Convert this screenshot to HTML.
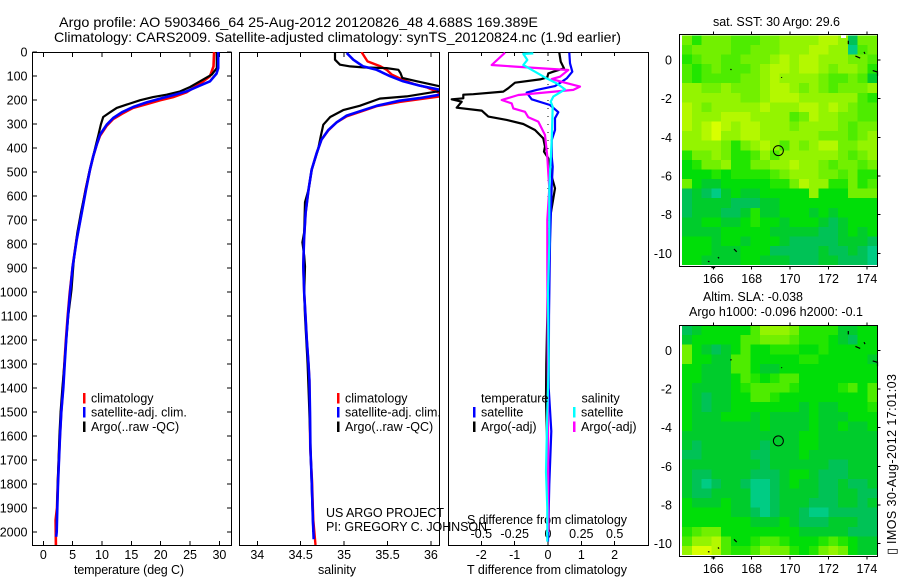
<!DOCTYPE html>
<html>
<head>
<meta charset="utf-8">
<title>Argo profile 5903466_64</title>
<style>
html,body{margin:0;padding:0;background:#fff;}
svg{display:block;}
text{font-family:"Liberation Sans",sans-serif;font-size:12.5px;fill:#000;}
</style>
</head>
<body>
<svg id="chart" xmlns="http://www.w3.org/2000/svg" width="900" height="580" viewBox="0 0 900 580">
<defs>
<clipPath id="clip-t"><rect x="32" y="52" width="199.5" height="493"/></clipPath>
<clipPath id="clip-s"><rect x="239.5" y="52" width="199.5" height="493"/></clipPath>
<clipPath id="clip-d"><rect x="448.5" y="52" width="200" height="493"/></clipPath>
<clipPath id="clip-m1"><rect x="682" y="35" width="195" height="230"/></clipPath>
<clipPath id="clip-m2"><rect x="682" y="326" width="195" height="229"/></clipPath>
</defs>
<text x="59" y="27" textLength="479" lengthAdjust="spacingAndGlyphs" style="font-size:14px">Argo profile: AO 5903466_64 25-Aug-2012 20120826_48 4.688S 169.389E</text>
<text x="54" y="42" textLength="567" lengthAdjust="spacingAndGlyphs" style="font-size:14px">Climatology: CARS2009. Satellite-adjusted climatology: synTS_20120824.nc (1.9d earlier)</text>
<text x="74" y="574" textLength="110" lengthAdjust="spacing">temperature (deg C)</text>
<text x="318" y="574" textLength="38" lengthAdjust="spacing">salinity</text>
<text x="467" y="574" textLength="160" lengthAdjust="spacing">T difference from climatology</text>
<text x="467" y="524" textLength="160" lengthAdjust="spacing">S difference from climatology</text>
<text x="326" y="517" textLength="118" lengthAdjust="spacing">US ARGO PROJECT</text>
<text x="326" y="531" textLength="161" lengthAdjust="spacing">PI: GREGORY C. JOHNSON</text>
<text x="713" y="26" textLength="127" lengthAdjust="spacing">sat. SST: 30 Argo: 29.6</text>
<text x="703" y="301" textLength="100" lengthAdjust="spacing">Altim. SLA: -0.038</text>
<text x="689" y="316" textLength="174" lengthAdjust="spacing">Argo h1000: -0.096 h2000: -0.1</text>
<text transform="translate(896,544) rotate(-90)" textLength="170" lengthAdjust="spacing">IMOS 30-Aug-2012 17:01:03</text>
<text transform="translate(896,555) rotate(-90)" style="font-size:13px;font-family:'DejaVu Sans',sans-serif">▯</text>
<g id="layer"></g>
</svg>
<script>
// ---- Temperature panel data ----
const tempTicks = [0, 5, 10, 15, 20, 25, 30];
const depthTicks = [0,100,200,300,400,500,600,700,800,900,1000,1100,1200,1300,1400,1500,1600,1700,1800,1900,2000];
const climTempDepth = [0,60,101,132,168,188,201,217,233,257,279,307,349,386,435,490,574,671,782,893,1004,1100,1200,1300,1400,1500,1600,1700,1800,1900,1950,2054];
const climTemp = [29.1,29.0,28.4,26.7,24.4,22.1,19.9,17.6,15.3,13.4,11.9,10.8,9.66,9.1,8.5,7.96,7.2,6.5,5.65,5.0,4.5,4.15,3.85,3.6,3.35,3.05,2.82,2.64,2.47,2.34,2.1,2.15];
const satTempDepth = [0,67,90,122,140,164,180,194,210,229,251,275,303,344,386,435,490,574,671,782,893,1004,1100,1200,1300,1400,1500,1600,1700,1800,1900,2000,2020];
const satTemp = [29.8,29.8,29.5,28.4,26.7,24.4,22.1,19.9,17.6,15.3,13.4,11.9,10.8,9.66,9.1,8.5,7.96,7.27,6.54,5.69,5.0,4.55,4.2,3.9,3.65,3.4,3.07,2.85,2.67,2.5,2.39,2.28,2.2];
const argoTempDepth = [0,67,94,122,146,164,178,188,201,219,233,251,271,303,344,394,435,504,587,671,754,865,990,1100,1200,1300,1400,1500,1600,1700,1800,1900,2000];
const argoTemp = [29.55,29.55,28.7,26.7,25,23.3,21,18.7,16.5,14.2,12.5,11.4,10.2,9.8,9.4,8.9,8.5,7.8,7.1,6.4,5.8,5.2,4.8,4.25,3.9,3.6,3.25,2.95,2.75,2.6,2.45,2.35,2.25];

// ---- Salinity panel data ----
const salTicks = [34, 34.5, 35, 35.5, 36];
const climSalDepth = [0,39,60,74,94,115,133,147,171,185,208,226,250,268,293,326,365,421,490,574,671,782,893,1004,1100,1200,1300,1367,1500,1650,1783,1950,2054];
const climSal = [35.2,35.27,35.42,35.49,35.55,35.67,35.8,35.95,36.1,36.1,35.64,35.375,35.18,35.03,34.915,34.82,34.74,34.684,34.627,34.59,34.557,34.538,34.53,34.54,34.555,34.57,34.59,34.6,34.605,34.61,34.63,34.645,34.67];
const satSalDepth = [4,32,60,74,101,122,140,157,168,178,192,203,224,247,265,293,324,365,421,490,574,671,782,893,1004,1100,1200,1300,1367,1500,1650,1783,1950,2030];
const satSal = [35.03,35.106,35.22,35.375,35.53,35.68,35.87,36.1,36.2,36.1,35.87,35.64,35.375,35.18,35.03,34.915,34.82,34.74,34.684,34.627,34.59,34.557,34.538,34.53,34.54,34.555,34.57,34.59,34.6,34.607,34.612,34.627,34.64,34.65];
const argoSalDepth = [0,32,53,60,64,67,74,88,108,122,143,160,185,194,224,242,271,303,352,406,490,574,626,751,793,849,893,1004,1100,1200,1300,1400,1600,1800,2000];
const argoSal = [34.895,34.895,34.953,35.07,35.22,35.49,35.625,35.65,35.67,35.84,36.1,36.15,35.72,35.41,35.18,34.99,34.84,34.76,34.73,34.7,34.627,34.59,34.55,34.54,34.52,34.54,34.55,34.54,34.55,34.565,34.58,34.59,34.61,34.625,34.645];

// ---- Difference panel data ----
const diffBottomTicks = [-2, -1, 0, 1, 2];
const diffTopTicks = [-0.5, -0.25, 0, 0.25, 0.5];
const diffTopLabels = ['-0.5', '-0.25', '0', '0.25', '0.5'];
const argoTDiffDepth = [3,40,68,82,89,106,114,128,151,165,176,178,193,197,207,232,244,269,283,300,325,360,394,415,443,478,519,568,700,900,1100,1300,1450,1500,1600,1700,2000];
const argoTDiff = [.34,.38,.48,.16,.01,-.02,-.24,-.99,-1.19,-1.34,-2.24,-2.54,-2.54,-2.89,-2.59,-2.74,-1.99,-1.79,-1.24,-.74,-.39,-.14,-.09,-.12,.01,.06,.11,.21,.05,0,-.02,-.05,-.06,-.05,-.03,0,.02];
const satTDiffDepth = [3,47,82,110,124,142,158,169,197,221,251,276,325,367,436,478,561,800,1100,1400,1580,1800,2040];
const satTDiff = [.64,.66,.73,.56,.41,.21,-.34,-.64,-.49,.06,.31,.21,.21,.11,.11,.14,.11,.06,.03,.02,.1,.04,0];
const argoSDiffDepth = [3,54,61,75,103,113,128,144,158,179,200,214,235,249,272,290,346,436,506,568,700,900,1200,1500,2000];
const argoSDiff = [-.3225,-.4225,-.2475,.1525,.09,.0275,.1275,.24,.19,-.2225,-.3475,-.2725,-.26,-.1725,-.1475,-.0725,-.0225,-.005,.0025,.01,-.005,-.005,-.002,0,.002];
const satSDiffDepth = [6,8,33,54,82,110,131,156,186,207,228,367,506,568,800,1000,1300,1500,1750,1900,2040];
const satSDiff = [-.11,-.185,-.155,-.185,-.0975,-.01,.065,.1275,.04,.02,.035,.0275,.015,.01,.01,0,.005,-.005,-.015,-.005,-.005];

// ---- Map data: colour level of each 0.5 degree cell, north to south ----
const mapTicksLon = [166, 168, 170, 172, 174];
const mapTicksLat = [0, -2, -4, -6, -8, -10];
const floatLon = 169.389;
const floatLat = -4.688;
const sstGrid = [
[6,4,6,6,6,5,5,5,6,6,7,7,7,7,8,8,7,1,6,6],
[5,6,6,6,6,5,5,6,6,6,7,7,7,8,8,7,7,0,5,6],
[4,5,6,6,5,5,6,6,6,7,8,7,8,8,7,7,7,6,6,5],
[5,4,5,6,5,5,5,6,7,8,8,7,8,8,7,6,7,7,6,4],
[5,4,5,5,5,5,6,6,7,8,7,7,7,7,6,5,5,6,5,2],
[7,7,6,6,7,6,6,6,7,8,8,7,6,7,6,5,6,6,6,7],
[7,7,7,7,7,7,6,6,7,8,8,8,7,7,7,7,7,7,5,4],
[8,7,6,7,7,7,7,7,8,7,7,7,8,8,7,8,7,6,5,5],
[8,7,7,7,8,8,8,7,7,7,7,5,6,8,7,7,6,6,5,5],
[8,7,8,9,8,7,8,8,7,7,7,6,7,7,7,7,6,5,6,6],
[7,7,8,9,7,7,8,8,7,7,7,7,7,7,6,6,6,5,6,7],
[7,7,7,7,6,4,6,7,8,7,5,7,6,7,8,8,6,6,7,7],
[4,6,6,7,6,4,4,5,7,5,7,7,7,7,7,7,6,5,6,7],
[3,4,6,6,7,4,4,6,6,7,7,8,7,7,6,5,6,6,5,6],
[3,3,3,4,3,4,4,4,4,5,6,7,7,7,6,6,5,6,4,4],
[6,3,2,2,3,3,3,3,3,4,4,6,8,7,7,4,4,6,4,5],
[1,2,1,0,2,3,2,2,3,3,3,3,3,7,3,3,3,6,6,6],
[1,2,2,2,2,1,1,1,2,2,3,3,3,3,3,3,3,3,3,3],
[1,2,2,2,1,1,2,4,2,2,3,3,3,2,3,2,3,3,3,3],
[2,2,3,3,2,2,3,4,3,3,2,3,3,3,2,1,2,3,3,3],
[2,2,2,2,3,3,3,3,3,2,2,2,2,2,1,1,2,3,2,3],
[3,3,3,2,3,3,2,3,3,3,2,1,1,1,1,1,2,2,2,1],
[3,3,3,2,2,2,3,3,3,1,1,1,1,1,2,1,1,2,1,0],
[3,3,2,2,2,2,3,3,2,2,2,1,1,1,2,2,1,1,1,0]
];
const slaGrid = [
[1,2,3,3,3,3,3,5,7,7,7,6,4,4,4,4,2,2,3,3],
[2,3,3,3,3,3,5,5,6,6,6,5,4,4,4,3,2,1,3,3],
[6,3,2,1,2,3,5,3,3,4,4,4,3,3,4,3,3,3,3,3],
[6,3,3,2,2,5,5,3,3,3,3,3,4,4,3,3,3,3,3,2],
[3,3,2,2,2,5,5,3,2,2,3,3,3,3,3,3,3,3,3,3],
[3,3,2,2,2,3,5,4,3,4,5,5,3,3,3,3,3,3,3,3],
[3,2,2,2,2,3,4,5,5,5,5,4,3,3,3,3,4,5,3,5],
[3,2,1,2,2,3,3,5,5,4,3,3,3,3,3,3,3,3,3,5],
[3,2,1,2,2,3,3,3,3,3,3,3,2,3,2,2,3,3,3,4],
[3,2,2,2,3,3,3,2,3,2,2,2,2,3,2,2,2,3,3,3],
[3,2,2,2,2,2,2,2,3,2,2,2,2,3,2,2,3,2,2,3],
[2,2,2,2,2,2,2,2,2,2,2,2,3,3,2,2,2,2,2,2],
[2,1,2,2,2,2,2,2,1,2,2,2,3,3,2,2,2,2,2,2],
[1,1,2,2,2,2,2,1,1,2,2,2,3,2,2,2,2,2,2,2],
[2,2,2,2,2,2,2,2,1,2,2,2,2,2,2,1,1,2,2,2],
[2,1,1,2,2,2,2,1,1,1,2,3,3,2,1,1,1,2,2,2],
[2,1,0,1,2,2,1,0,0,1,2,3,2,2,1,1,2,1,1,2],
[2,1,1,2,2,2,2,0,0,1,2,2,2,2,1,1,2,2,1,1],
[3,2,2,2,3,2,2,0,0,1,2,2,2,1,1,1,2,2,1,2],
[3,3,3,3,3,2,2,1,0,1,2,2,1,0,0,1,1,1,1,1],
[3,3,3,3,3,3,3,2,2,2,3,2,1,1,1,2,2,2,1,1],
[4,5,6,6,3,3,3,3,3,3,3,3,2,2,2,2,2,1,1,1],
[5,7,7,8,5,3,3,4,5,5,4,3,3,3,4,5,4,3,2,2],
[7,9,9,8,5,4,4,5,7,6,6,4,3,4,6,7,6,3,2,2]
];
const islandLons = [[173.03,173.03],[173.4,173.65],[173.85,173.9],[174.3,174.55,174.55],[166.9,166.94],[169.55,169.56],[167.08,167.22],[166.24,166.3],[165.72,165.8],[165.9,166.1]];
const islandLats = [[1.0,0.82],[0.2,0.1],[0.42,0.32],[-0.55,-0.62,-0.82],[-0.52,-0.46],[-0.88,-0.92],[-9.78,-9.92],[-10.2,-10.26],[-10.42,-10.43],[-10.74,-10.74]];

// ---- Axis functions ----
const yDepth = d => 52 + 0.24 * d;
const xTemp = t => 43.3 + 5.87 * t;
const xSal = s => 257.3 + 86.8 * (s - 34);
const xTDiff = v => 548 + 33.33 * v;
const xSDiff = v => 548 + 133.33 * v;
const xLon = l => 713.3 + 19.2 * (l - 166);
const yLat1 = l => 60 - 19.33 * l;
const yLat2 = l => 350.3 - 19.33 * l;

const mapColours = ['#00cc84','#00c256','#00cc2c','#00de08','#22e600','#4eec00','#72f000','#94f400','#b4f800','#d8ff00'];
const NS = 'http://www.w3.org/2000/svg';
const layer = document.getElementById('layer');

function mk(tag, attrs, parent) {
  const el = document.createElementNS(NS, tag);
  for (const k in attrs) el.setAttribute(k, attrs[k]);
  (parent || layer).appendChild(el);
  return el;
}
function profile(xs, ds, xf, colour, width, clip, name) {
  const pts = xs.map((v, i) => xf(v).toFixed(1) + ',' + yDepth(ds[i]).toFixed(1)).join(' ');
  const el = mk('polyline', {points: pts, fill: 'none', stroke: colour, 'stroke-width': width, 'clip-path': 'url(#' + clip + ')', 'stroke-linejoin': 'round'});
  
  
}
function tickLine(x1, y1, x2, y2) {
  const el = mk('line', {x1: x1, y1: y1, x2: x2, y2: y2, stroke: '#000', 'stroke-width': 1, 'shape-rendering': 'crispEdges'});
  
  
}
function label(x, y, str, anchor) {
  const el = mk('text', {x: x, y: y, 'text-anchor': anchor});
  el.textContent = str;
  
  
}
function frame(x, y, w, h, name) {
  const el = mk('rect', {x: x, y: y, width: w, height: h, fill: 'none', stroke: '#000', 'stroke-width': 1.2, 'shape-rendering': 'crispEdges'});
  
  
}
function legendEntry(barX, barY, colour, str) {
  const bar = mk('rect', {x: barX - 1, y: barY, width: 2.5, height: 10.5, fill: colour});
  
  
  if (str) {
    const t = mk('text', {x: barX + 7, y: barY + 9.5});
    t.textContent = str;
    
    
  }
}

// ---- Maps ----
function drawMap(grid, yf, clip, name) {
  const latTop = 1.28, step = 0.4958, lonLeft = 164.37, lonStep = 0.508;
  grid.forEach((row, r) => row.forEach((v, c) => {
    const x0 = xLon(lonLeft + c * lonStep), x1 = xLon(lonLeft + (c + 1) * lonStep);
    const y0 = yf(latTop - r * step), y1 = yf(latTop - (r + 1) * step);
    const cell = mk('rect', {x: x0.toFixed(2), y: y0.toFixed(2), width: (x1 - x0 + 0.4).toFixed(2), height: (y1 - y0 + 0.4).toFixed(2), fill: mapColours[v], 'clip-path': 'url(#' + clip + ')', 'shape-rendering': 'crispEdges'});
    
    
  }));
  islandLons.forEach((lons, i) => {
    const pts = lons.map((l, j) => xLon(l).toFixed(1) + ',' + yf(islandLats[i][j]).toFixed(1)).join(' ');
    const isl = mk('polyline', {points: pts, fill: 'none', stroke: '#000', 'stroke-width': 1.2});
    
    
  });
  const marker = mk('circle', {cx: xLon(floatLon), cy: yf(floatLat), r: 5, fill: 'none', stroke: '#000', 'stroke-width': 1});
  
  
}
drawMap(sstGrid, yLat1, 'clip-m1', 'sst-map');
drawMap(slaGrid, yLat2, 'clip-m2', 'sla-map');
const gap = mk('rect', {x: 841, y: 35, width: 5, height: 3, fill: '#fff'});



function mapAxes(top, bottom, yf, labelY, name) {
  frame(679.5, top, 198, bottom - top, name + '-frame');
  mapTicksLon.forEach(l => {
    tickLine(xLon(l), top, xLon(l), top - 3);
    tickLine(xLon(l), bottom, xLon(l), bottom + 3);
    label(xLon(l), labelY, String(l), 'middle');
  });
  mapTicksLat.forEach(l => {
    tickLine(877.5, yf(l), 880.5, yf(l));
    label(672, yf(l) + 4.5, String(l), 'end');
  });
}
mapAxes(34.5, 266.5, yLat1, 283, 'sst-map');
mapAxes(325.5, 556.5, yLat2, 573, 'sla-map');

// ---- Panel frames and ticks ----
frame(32.5, 52.5, 199, 493, 'temperature-panel-frame');
frame(239.5, 52.5, 200, 493, 'salinity-panel-frame');
frame(448.5, 52.5, 200, 493, 'difference-panel-frame');

depthTicks.forEach(d => {
  tickLine(32.5, yDepth(d), 37, yDepth(d));
  tickLine(231.5, yDepth(d), 227, yDepth(d));
  label(27.5, yDepth(d) + 4.5, String(d), 'end');
});
tempTicks.forEach(t => {
  tickLine(xTemp(t), 52.5, xTemp(t), 57);
  tickLine(xTemp(t), 545.5, xTemp(t), 541);
  label(xTemp(t), 559, String(t), 'middle');
});
salTicks.forEach(s => {
  tickLine(xSal(s), 52.5, xSal(s), 57);
  tickLine(xSal(s), 545.5, xSal(s), 541);
  label(xSal(s), 559, String(s), 'middle');
});
diffBottomTicks.forEach(v => {
  tickLine(xTDiff(v), 52.5, xTDiff(v), 56);
  tickLine(xTDiff(v), 545.5, xTDiff(v), 541);
  label(xTDiff(v), 559, String(v), 'middle');
});
diffTopTicks.forEach((v, i) => {
  label(xSDiff(v), 538, diffTopLabels[i], 'middle');
});

// ---- Zero line ----
const zero = mk('line', {x1: xTDiff(0), y1: 52, x2: xTDiff(0), y2: 545, stroke: '#000', 'stroke-width': 1, 'stroke-dasharray': '1 7', 'shape-rendering': 'crispEdges'});



// ---- Series ----
profile(climTemp, climTempDepth, xTemp, '#ff0000', 2.6, 'clip-t', 'temperature-climatology-line');
profile(argoTemp, argoTempDepth, xTemp, '#000000', 2.2, 'clip-t', 'temperature-argo-line');
profile(satTemp, satTempDepth, xTemp, '#0000ff', 2.6, 'clip-t', 'temperature-satellite-line');

profile(climSal, climSalDepth, xSal, '#ff0000', 2.4, 'clip-s', 'salinity-climatology-line');
profile(argoSal, argoSalDepth, xSal, '#000000', 2.2, 'clip-s', 'salinity-argo-line');
profile(satSal, satSalDepth, xSal, '#0000ff', 2.6, 'clip-s', 'salinity-satellite-line');

profile(argoTDiff, argoTDiffDepth, xTDiff, '#000000', 2.2, 'clip-d', 'argo-t-difference-line');
profile(satTDiff, satTDiffDepth, xTDiff, '#0000ff', 2.2, 'clip-d', 'satellite-t-difference-line');
profile(argoSDiff, argoSDiffDepth, xSDiff, '#ff00ff', 2.2, 'clip-d', 'argo-s-difference-line');
profile(satSDiff, satSDiffDepth, xSDiff, '#00ffff', 2.2, 'clip-d', 'satellite-s-difference-line');

// ---- Legends ----
legendEntry(84, 393, '#ff0000', 'climatology');
legendEntry(84, 407, '#0000ff', 'satellite-adj. clim.');
legendEntry(84, 421.5, '#000000', 'Argo(..raw -QC)');
legendEntry(338, 393, '#ff0000', 'climatology');
legendEntry(338, 407, '#0000ff', 'satellite-adj. clim.');
legendEntry(338, 421.5, '#000000', 'Argo(..raw -QC)');
legendEntry(474, 407, '#0000ff', 'satellite');
legendEntry(474, 421.5, '#000000', 'Argo(-adj)');
legendEntry(574, 407, '#00ffff', 'satellite');
legendEntry(574, 421.5, '#ff00ff', 'Argo(-adj)');
const hT = mk('text', {x: 481, y: 402.5});
hT.textContent = 'temperature';


const hS = mk('text', {x: 581.5, y: 402.5});
hS.textContent = 'salinity';


</script>
</body>
</html>
